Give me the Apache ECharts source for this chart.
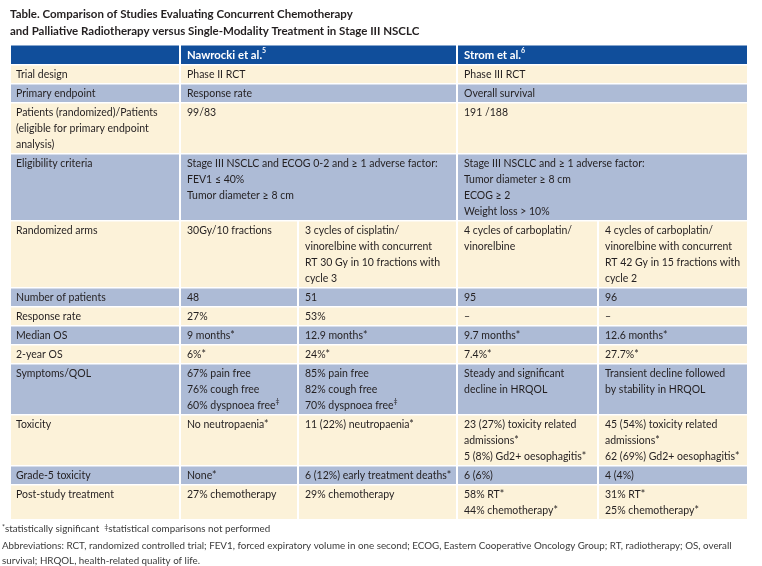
<!DOCTYPE html>
<html><head><meta charset="utf-8">
<script src="https://cdn.jsdelivr.net/npm/echarts@6/dist/echarts.min.js"></script>
<style>html,body{margin:0;padding:0;background:#fff}#c{width:762px;height:566px}</style>
</head><body><div id="c"></div>
<script>
// ---------------- data ----------------
const titleLines = [
  'Table. Comparison of Studies Evaluating Concurrent Chemotherapy',
  'and Palliative Radiotherapy versus Single-Modality Treatment in Stage III NSCLC'
];
const studyNames = ['Nawrocki et al.', 'Strom et al.'];
const studyRefs = ['5', '6'];
const rowLabels = [
  'Trial design',
  'Primary endpoint',
  'Patients (randomized)/Patients\n(eligible for primary endpoint\nanalysis)',
  'Eligibility criteria',
  'Randomized arms',
  'Number of patients',
  'Response rate',
  'Median OS',
  '2-year OS',
  'Symptoms/QOL',
  'Toxicity',
  'Grade-5 toxicity',
  'Post-study treatment'
];
// null in arm B = the arm A entry spans both arms of the study
const nawrockiArmA = [
  'Phase II RCT',
  'Response rate',
  '99/83',
  'Stage III NSCLC and ECOG 0-2 and \u2265 1 adverse factor:\nFEV1 \u2264 40%\nTumor diameter \u2265 8 cm',
  '30Gy/10 fractions',
  '48',
  '27%',
  '9 months*',
  '6%*',
  '67% pain free\n76% cough free\n60% dyspnoea free\u2021',
  'No neutropaenia*',
  'None*',
  '27% chemotherapy'
];
const nawrockiArmB = [
  null, null, null, null,
  '3 cycles of cisplatin/\nvinorelbine with concurrent\nRT 30 Gy in 10 fractions with\ncycle 3',
  '51',
  '53%',
  '12.9 months*',
  '24%*',
  '85% pain free\n82% cough free\n70% dyspnoea free\u2021',
  '11 (22%) neutropaenia*',
  '6 (12%) early treatment deaths*',
  '29% chemotherapy'
];
const stromArmA = [
  'Phase III RCT',
  'Overall survival',
  '191 /188',
  'Stage III NSCLC and \u2265 1 adverse factor:\nTumor diameter \u2265 8 cm\nECOG \u2265 2\nWeight loss > 10%',
  '4 cycles of carboplatin/\nvinorelbine',
  '95',
  '\u2013',
  '9.7 months*',
  '7.4%*',
  'Steady and significant\ndecline in HRQOL',
  '23 (27%) toxicity related\nadmissions*\n5 (8%) Gd2+ oesophagitis*',
  '6 (6%)',
  '58% RT*\n44% chemotherapy*'
];
const stromArmB = [
  null, null, null, null,
  '4 cycles of carboplatin/\nvinorelbine with concurrent\nRT 42 Gy in 15 fractions with\ncycle 2',
  '96',
  '\u2013',
  '12.6 months*',
  '27.7%*',
  'Transient decline followed\nby stability in HRQOL',
  '45 (54%) toxicity related\nadmissions*\n62 (69%) Gd2+ oesophagitis*',
  '4 (4%)',
  '31% RT*\n25% chemotherapy*'
];
const footnoteMarks = ['*', '\u2021'];
const footnoteTexts = ['statistically significant', 'statistical comparisons not performed'];
const abbreviationLines = [
  'Abbreviations: RCT, randomized controlled trial; FEV1, forced expiratory volume in one second; ECOG, Eastern Cooperative Oncology Group; RT, radiotherapy; OS, overall',
  'survival; HRQOL, health-related quality of life.'
];

// ---------------- layout / style ----------------
const COL_W = [170, 118, 159, 141, 150];
const LINE_H = 16, ROW_PAD = 3, HEADER_H = 20;
const FONT = 'Lato';
const C_HEAD = '#104e9b', C_CREAM = '#fcf2d9', C_BLUE = '#adbbd6', C_TEXT = '#231f20';

const colEdges = [0];
COL_W.forEach(w => colEdges.push(colEdges[colEdges.length - 1] + w));

const cells = [];
cells.push({c0: 0, c1: 1, y0: 0, y1: HEADER_H, text: '', kind: 'head'});
cells.push({c0: 1, c1: 3, y0: 0, y1: HEADER_H, text: studyNames[0] + '{ref|' + studyRefs[0] + '}', kind: 'head'});
cells.push({c0: 3, c1: 5, y0: 0, y1: HEADER_H, text: studyNames[1] + '{ref|' + studyRefs[1] + '}', kind: 'head'});
let yCur = HEADER_H;
rowLabels.forEach((lab, i) => {
  const entries = [[0, 1, lab]];
  if (nawrockiArmB[i] == null) entries.push([1, 3, nawrockiArmA[i]]);
  else { entries.push([1, 2, nawrockiArmA[i]]); entries.push([2, 3, nawrockiArmB[i]]); }
  if (stromArmB[i] == null) entries.push([3, 5, stromArmA[i]]);
  else { entries.push([3, 4, stromArmA[i]]); entries.push([4, 5, stromArmB[i]]); }
  const lines = Math.max(...entries.map(e => e[2].split('\n').length));
  const h = ROW_PAD + LINE_H * lines;
  entries.forEach(e => cells.push({
    c0: e[0], c1: e[1], y0: yCur, y1: yCur + h,
    text: e[2].replace(/\u2021/g, '{sup|\u2021}'),
    kind: i % 2 === 0 ? 'cream' : 'blue'
  }));
  yCur += h;
});
const TOTAL_H = yCur;

const chart = echarts.init(document.getElementById('c'), null, {renderer: 'canvas'});
chart.setOption({
  animation: false,
  backgroundColor: '#ffffff',
  title: {
    text: titleLines.join('\n'),
    left: 10, top: 6, padding: 0,
    textStyle: {fontFamily: FONT, fontWeight: 'bold', fontSize: 11.5, lineHeight: 17, color: C_TEXT}
  },
  grid: {left: 10, top: 45, width: colEdges[5], height: TOTAL_H},
  xAxis: {type: 'value', min: 0, max: colEdges[5], show: false},
  yAxis: {type: 'value', min: 0, max: TOTAL_H, inverse: true, show: false},
  series: [{
    type: 'custom',
    coordinateSystem: 'cartesian2d',
    encode: {x: [0, 1], y: [2, 3]},
    data: cells.map(c => [colEdges[c.c0], colEdges[c.c1], c.y0, c.y1]),
    renderItem: function (params, api) {
      const c = cells[params.dataIndex];
      const p0 = api.coord([api.value(0), api.value(2)]);
      const p1 = api.coord([api.value(1), api.value(3)]);
      const isHead = c.kind === 'head';
      const fill = isHead ? C_HEAD : (c.kind === 'cream' ? C_CREAM : C_BLUE);
      const children = [{
        type: 'rect',
        shape: {x: p0[0] + 1, y: p0[1] + 0.5, width: p1[0] - p0[0] - 2, height: p1[1] - p0[1] - 1.5},
        style: {fill: fill}
      }];
      if (c.text) {
        children.push({
          type: 'text',
          x: p0[0] + (c.c0 === 0 ? 6 : 7),
          y: isHead ? (p0[1] + p1[1]) / 2 : p0[1] + 2,
          style: {
            text: c.text,
            fill: isHead ? '#ffffff' : C_TEXT,
            fontFamily: FONT,
            fontSize: isHead ? 11.3 : 10.5,
            fontWeight: isHead ? 'bold' : 'normal',
            lineHeight: LINE_H,
            align: 'left',
            verticalAlign: isHead ? 'middle' : 'top',
            rich: {
              sup: {fontFamily: FONT, fontSize: 7, lineHeight: 9, verticalAlign: 'top', fill: C_TEXT},
              ref: {fontFamily: FONT, fontSize: 7, fontWeight: 'bold', lineHeight: 9, verticalAlign: 'top', fill: '#ffffff'}
            }
          }
        });
      }
      return {type: 'group', children: children};
    }
  }],
  graphic: [
    {
      type: 'text', left: 2, top: 524,
      style: {
        text: '{m|' + footnoteMarks[0] + '}' + footnoteTexts[0] + '  {m|' + footnoteMarks[1] + '}' + footnoteTexts[1],
        fontFamily: FONT, fontSize: 9.8, fill: '#3a3a3a',
        rich: {m: {fontFamily: FONT, fontSize: 7, lineHeight: 8, verticalAlign: 'top', fill: '#3a3a3a'}}
      }
    },
    {
      type: 'text', left: 2, top: 539,
      style: {
        text: abbreviationLines.join('\n'),
        fontFamily: FONT, fontSize: 9.8, lineHeight: 14.5, fill: '#3a3a3a'
      }
    }
  ]
});
</script>
</body></html>
